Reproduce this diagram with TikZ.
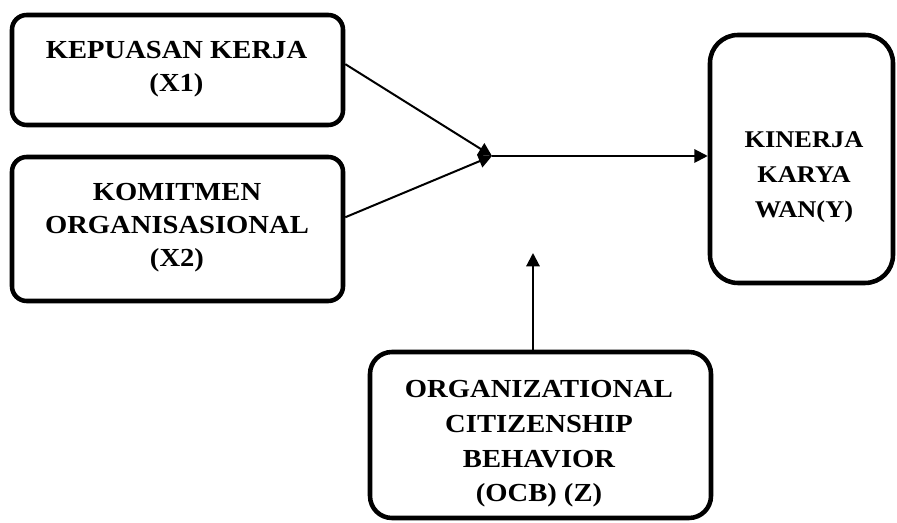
\documentclass[tikz,border=0pt]{standalone}
\usepackage{fontspec}
\setmainfont{Liberation Serif}[FakeStretch=1.1]
\usetikzlibrary{arrows.meta}

\begin{document}
\begin{tikzpicture}[x=0.75pt,y=0.75pt]
\tikzstyle{every node}+=[inner sep=0pt]
\tikzstyle{box}=[draw=black, line width=3.4pt, rounded corners=11pt]
\tikzstyle{txt}=[align=center, font=\fontsize{19.5}{24.75}\selectfont\bfseries]
\tikzstyle{link}=[black, line width=1.5pt, -{Triangle[length=10pt,width=10pt]}]
\useasboundingbox (0,0) rectangle (897,-523);
% boxes
\node [box, minimum width=248.25pt, minimum height=82.5pt] (x1) at (177.5,-70) {};
\node [txt] (x1t) at (176.5,-69) {KEPUASAN KERJA\\(X1)};
\node [box, minimum width=248.25pt, minimum height=108pt] (x2) at (177.5,-229) {};
\node [txt] (x2t) at (177,-228) {KOMITMEN\\ORGANISASIONAL\\(X2)};
\node [box, rounded corners=21pt, minimum width=137.25pt, minimum height=186pt] (y) at (801.5,-159) {};
\node [txt, font=\fontsize{18}{26}\selectfont\bfseries] (yt) at (804,-177) {KINERJA\\KARYA\\WAN(Y)};
\node [box, rounded corners=16.5pt, minimum width=255.75pt, minimum height=124.5pt] (z) at (540.5,-435) {};
\node [txt, font=\fontsize{19.5}{26}\selectfont\bfseries] (zt) at (539,-444) {ORGANIZATIONAL\\CITIZENSHIP\\BEHAVIOR\\(OCB) (Z)};
% arrows
\coordinate (j) at (492,-156);
\coordinate (tip) at (533,-253);
\draw [link] (x1.2) -- (j);
\draw [link] (x2.4) -- (j);
\draw [link] (j) -- (j -| y.west);
\draw [link] (tip |- z.north) -- (tip);
\end{tikzpicture}
\end{document}
